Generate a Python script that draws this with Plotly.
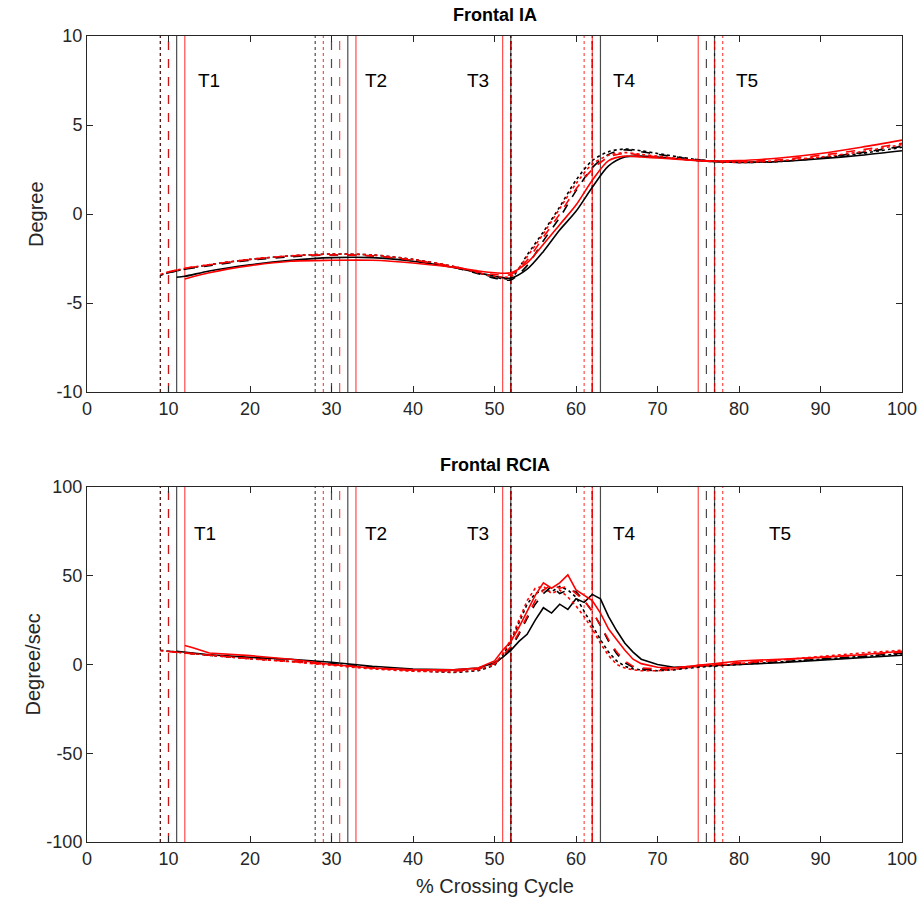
import plotly.graph_objects as go
from plotly.subplots import make_subplots

# ---------------- data ----------------
X_TOP = [9, 10, 11, 12, 15, 20, 25, 30, 35, 40, 45, 48, 50, 52, 54, 56, 58, 60, 62, 64, 66, 68, 70, 75, 80, 85, 90, 95, 100]
N = None
IA_black_solid = [N, N, -3.55, -3.5, -3.2, -2.85, -2.6, -2.45, -2.45, -2.65, -3.0, -3.3, -3.5, -3.6, -3.1, -2.1, -0.9, 0.15, 1.5, 2.7, 3.2, 3.25, 3.2, 3.0, 2.9, 2.95, 3.1, 3.3, 3.55]
IA_black_dash = [N, -3.3, -3.2, -3.1, -2.9, -2.6, -2.4, -2.3, -2.35, -2.6, -3.0, -3.35, -3.6, -3.7, -2.9, -1.5, -0.2, 1.3, 2.6, 3.35, 3.6, 3.5, 3.35, 3.05, 2.9, 2.95, 3.15, 3.45, 3.8]
IA_black_dot = [-3.45, -3.3, -3.2, -3.1, -2.85, -2.55, -2.35, -2.25, -2.3, -2.55, -2.95, -3.3, -3.55, -3.6, -2.3, -1.0, 0.4, 1.9, 3.0, 3.5, 3.65, 3.55, 3.4, 3.05, 2.9, 2.95, 3.15, 3.4, 3.75]
IA_red_solid = [N, N, N, -3.65, -3.3, -2.9, -2.65, -2.6, -2.6, -2.75, -3.0, -3.2, -3.3, -3.3, -2.75, -1.7, -0.6, 0.5, 1.9, 3.0, 3.25, 3.2, 3.15, 3.0, 3.0, 3.15, 3.4, 3.75, 4.15]
IA_red_dash = [N, -3.25, -3.15, -3.05, -2.85, -2.55, -2.35, -2.3, -2.35, -2.6, -2.95, -3.25, -3.4, -3.4, -2.6, -1.3, 0.0, 1.4, 2.5, 3.2, 3.4, 3.3, 3.2, 3.0, 2.95, 3.05, 3.3, 3.6, 3.97]
IA_red_dot = [-3.4, -3.25, -3.15, -3.05, -2.85, -2.55, -2.35, -2.25, -2.3, -2.55, -2.95, -3.3, -3.5, -3.5, -2.4, -1.1, 0.3, 1.7, 2.8, 3.3, 3.45, 3.35, 3.25, 3.0, 2.9, 3.0, 3.2, 3.5, 3.9]

X_BOT = [9, 10, 11, 12, 13, 15, 20, 25, 30, 35, 40, 45, 48, 50, 51, 52, 53, 54, 55, 56, 57, 58, 59, 60, 61, 62, 63, 64, 65, 66, 67, 68, 70, 72, 75, 80, 85, 90, 95, 100]
RCIA_black_solid = [N, N, 7.5, 7.0, 6.5, 5.5, 4.0, 3.0, 1.3, -1.0, -2.5, -3.0, -2.0, 1.0, 4.0, 8.0, 13.0, 17.0, 25.0, 32.0, 29.0, 34.0, 31.0, 37.0, 35.0, 39.5, 37.0, 27.0, 19.0, 12.0, 7.0, 3.0, 0.0, -1.5, -1.0, 0.0, 1.0, 2.5, 4.0, 5.2]
RCIA_black_dash = [N, 7.5, 7.0, 6.6, 6.2, 5.2, 3.5, 2.0, 0.5, -1.5, -3.0, -3.5, -2.5, 0.5, 4.0, 9.0, 17.0, 26.0, 34.0, 40.0, 44.0, 40.0, 42.0, 41.0, 36.0, 30.0, 22.0, 13.0, 6.0, 1.0, -1.5, -2.5, -3.0, -2.5, -1.0, 0.5, 1.5, 3.0, 4.5, 6.5]
RCIA_black_dot = [8.0, 7.5, 7.0, 6.6, 6.2, 5.2, 3.3, 1.8, 0.2, -2.0, -3.5, -4.5, -3.5, -0.5, 5.0, 13.0, 24.0, 34.0, 40.0, 42.0, 41.0, 44.0, 42.0, 38.0, 30.0, 22.0, 14.0, 7.0, 2.0, -1.0, -2.5, -3.0, -3.5, -3.0, -1.5, 0.0, 1.5, 3.0, 4.5, 6.0]
RCIA_red_solid = [N, N, N, 10.7, 9.5, 6.5, 5.0, 3.0, 0.0, -2.0, -3.0, -3.0, -2.0, 2.0, 8.0, 13.0, 21.0, 30.0, 39.0, 46.0, 43.0, 46.0, 50.5, 42.0, 39.0, 36.0, 29.0, 20.0, 14.0, 8.0, 3.0, 0.5, -1.5, -2.0, -0.5, 2.0, 3.0, 4.0, 5.5, 7.5]
RCIA_red_dash = [N, 7.3, 6.9, 6.5, 6.1, 5.0, 3.3, 1.8, 0.0, -2.0, -3.2, -3.5, -2.5, 0.5, 5.0, 10.0, 18.0, 27.0, 36.0, 42.0, 45.0, 43.0, 44.0, 40.0, 36.0, 30.0, 22.0, 14.0, 7.0, 2.0, -1.0, -2.0, -2.5, -2.0, -0.5, 1.0, 2.5, 4.0, 5.5, 7.0]
RCIA_red_dot = [7.8, 7.4, 7.0, 6.6, 6.2, 5.1, 3.2, 1.6, -0.3, -2.5, -3.8, -4.2, -3.0, 0.0, 6.0, 14.0, 25.0, 36.0, 43.0, 44.0, 40.0, 42.0, 38.0, 33.0, 27.0, 20.0, 12.0, 5.0, 0.0, -2.0, -3.0, -3.5, -3.5, -2.8, -1.0, 0.5, 2.5, 4.5, 6.5, 8.0]

# event (phase boundary) positions, % crossing cycle
EV_black_solid = [11, 32, 52, 63, 77]
EV_black_dash = [10, 30, 52, 62, 76]
EV_black_dot = [9, 28, 52, 62, 77]
EV_red_solid = [12, 33, 51, 62, 75]
EV_red_dash = [10, 31, 52, 62, 77]
EV_red_dot = [9, 29, 52, 61, 78]

PHASES = ["T1", "T2", "T3", "T4", "T5"]
PHASE_X_TOP = [15, 35.5, 48, 66, 81]
PHASE_X_BOT = [14.5, 35.5, 48, 66, 85]
PHASE_Y_TOP = 7.5
PHASE_Y_BOT = 74

X_TICKS = [0, 10, 20, 30, 40, 50, 60, 70, 80, 90, 100]
X_TICK_TEXT = ["0", "10", "20", "30", "40", "50", "60", "70", "80", "90", "100"]
Y_TICKS_TOP = [-10, -5, 0, 5, 10]
Y_TICK_TEXT_TOP = ["-10", "-5", "0", "5", "10"]
Y_TICKS_BOT = [-100, -50, 0, 50, 100]
Y_TICK_TEXT_BOT = ["-100", "-50", "0", "50", "100"]

# ---------------- figure ----------------
fig = make_subplots(rows=2, cols=1)

RED = "#ff0000"
BLK = "#000000"
# vertical event lines: drawing order (later on top)
vstyles = [
    (RED, "dot", EV_red_dot), (BLK, "dot", EV_black_dot),
    (BLK, "solid", EV_black_solid), (BLK, "dash", EV_black_dash),
    (RED, "dash", EV_red_dash), (RED, "solid", EV_red_solid),
]
styles = [
    (BLK, "solid"), (BLK, "dash"), (BLK, "dot"),
    (RED, "solid"), (RED, "dash"), (RED, "dot"),
]
top_series = [IA_black_solid, IA_black_dash, IA_black_dot, IA_red_solid, IA_red_dash, IA_red_dot]
bot_series = [RCIA_black_solid, RCIA_black_dash, RCIA_black_dot, RCIA_red_solid, RCIA_red_dash, RCIA_red_dot]

for row, yr in [(1, [-10, 10]), (2, [-100, 100])]:
    for col, dash, evs in vstyles:
        for e in evs:
            fig.add_trace(go.Scatter(x=[e, e], y=yr, mode="lines",
                                     line=dict(color=col, dash=dash, width=1.2),
                                     opacity=0.7,
                                     showlegend=False, hoverinfo="skip"), row=row, col=1)

for (col, dash), ys in zip(styles, top_series):
    fig.add_trace(go.Scatter(x=X_TOP, y=ys, mode="lines", connectgaps=False,
                             line=dict(color=col, dash=dash, width=1.6, shape="spline", smoothing=0.8),
                             showlegend=False), row=1, col=1)
for (col, dash), ys in zip(styles, bot_series):
    fig.add_trace(go.Scatter(x=X_BOT, y=ys, mode="lines", connectgaps=False,
                             line=dict(color=col, dash=dash, width=1.6),
                             showlegend=False), row=2, col=1)

axis_common = dict(showline=True, linecolor="#262626", linewidth=1, mirror="ticks",
                   ticks="inside", ticklen=6, tickcolor="#262626", showgrid=False,
                   zeroline=False, automargin=False, tickfont=dict(size=18, color="#262626"))

fig.update_xaxes(range=[0, 100], tickvals=X_TICKS, ticktext=X_TICK_TEXT, **axis_common)
fig.update_yaxes(range=[-10, 10], tickvals=Y_TICKS_TOP, ticktext=Y_TICK_TEXT_TOP, row=1, col=1, **axis_common)
fig.update_yaxes(range=[-100, 100], tickvals=Y_TICKS_BOT, ticktext=Y_TICK_TEXT_BOT, row=2, col=1, **axis_common)

fig.update_layout(
    width=918, height=906,
    margin=dict(l=87, r=16, t=36, b=64),
    plot_bgcolor="white", paper_bgcolor="white",
    font=dict(family="Liberation Sans, Arial, sans-serif", color="#000000"),
    yaxis=dict(domain=[0.5583, 1.0]),
    yaxis2=dict(domain=[0.0, 0.4404]),
)

ann = []
for t, xt, xb in zip(PHASES, PHASE_X_TOP, PHASE_X_BOT):
    ann.append(dict(x=xt, y=PHASE_Y_TOP, xref="x", yref="y", text=t, showarrow=False,
                    font=dict(size=19, color="#000000")))
    ann.append(dict(x=xb, y=PHASE_Y_BOT, xref="x2", yref="y2", text=t, showarrow=False,
                    font=dict(size=19, color="#000000")))
ann += [
    dict(x=0.5, y=1, xref="x domain", yref="y domain", text="<b>Frontal IA</b>", showarrow=False,
         yanchor="bottom", yshift=9, font=dict(size=18, color="#000000")),
    dict(x=0.5, y=1, xref="x2 domain", yref="y2 domain", text="<b>Frontal RCIA</b>", showarrow=False,
         yanchor="bottom", yshift=10, font=dict(size=18, color="#000000")),
    dict(x=0, y=0.5, xref="x domain", yref="y domain", text="Degree", showarrow=False,
         textangle=-90, xanchor="center", yanchor="middle", xshift=-51, font=dict(size=20, color="#262626")),
    dict(x=0, y=0.5, xref="x2 domain", yref="y2 domain", text="Degree/sec", showarrow=False,
         textangle=-90, xanchor="center", yanchor="middle", xshift=-54, font=dict(size=20, color="#262626")),
    dict(x=0.5, y=0, xref="x2 domain", yref="y2 domain", text="% Crossing Cycle", showarrow=False,
         yanchor="middle", yshift=-44, font=dict(size=20, color="#262626")),
]
fig.update_layout(annotations=ann)

fig.write_html("out.html", config={"displayModeBar": False},
               post_script="document.body.style.margin='0';document.body.style.overflow='hidden';")
